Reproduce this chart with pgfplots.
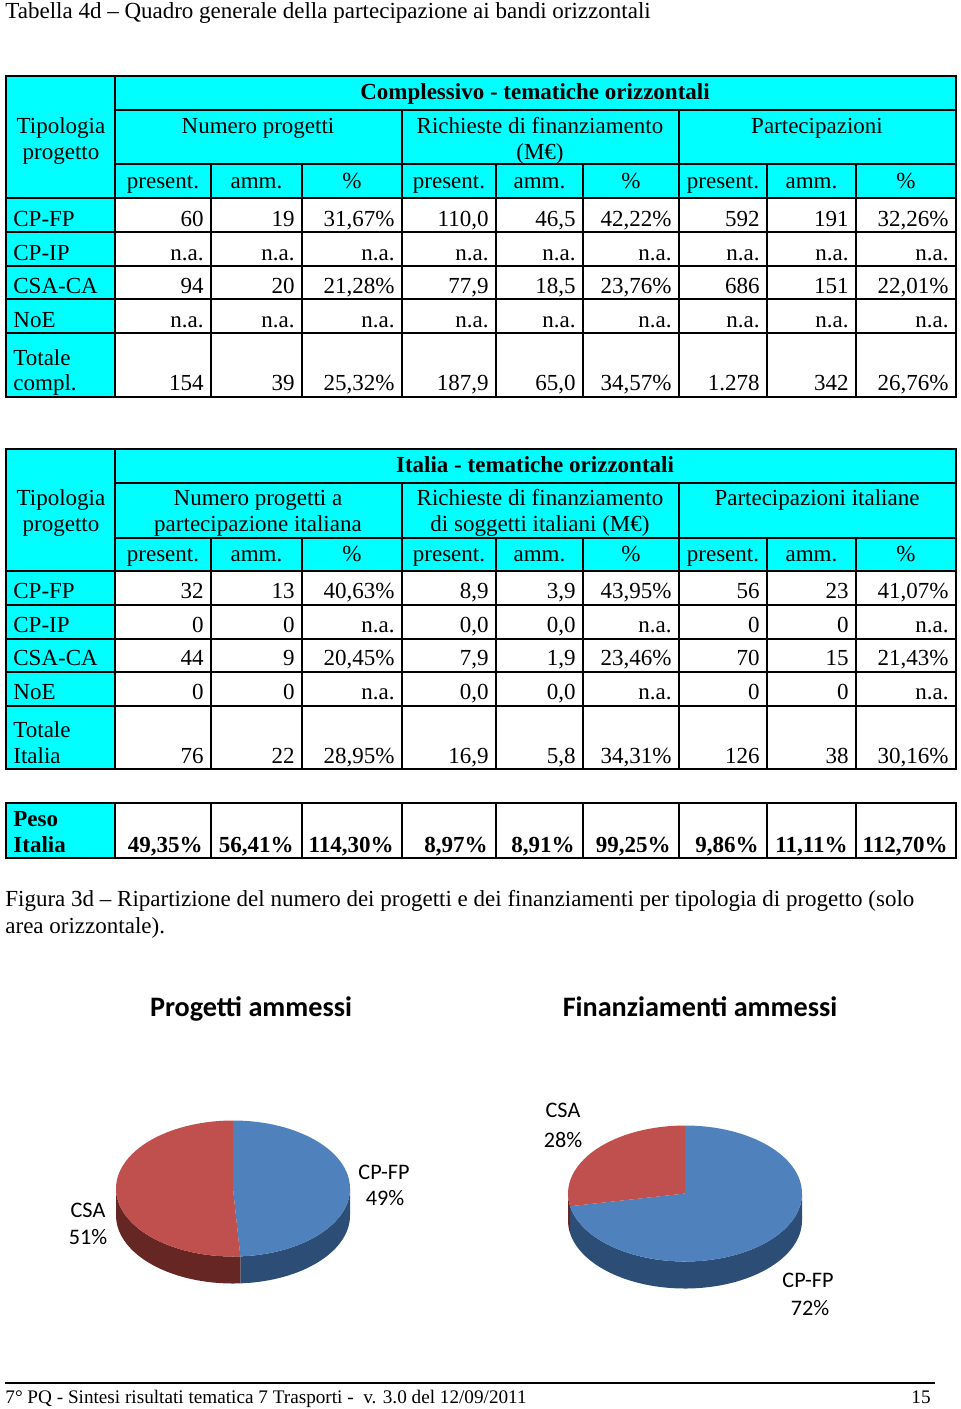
\documentclass[border=0pt]{standalone}
\usepackage{fontspec}
\setmainfont{Liberation Serif}
\newfontfamily\calibri{Carlito}
\usepackage{pgfplots}
\usepackage{pgfplotstable}
\pgfplotsset{compat=1.18}
\definecolor{cy}{RGB}{0,255,255}
\definecolor{pb}{RGB}{79,129,189}
\definecolor{pr}{RGB}{192,80,77}
\definecolor{pbd}{RGB}{44,77,117}
\definecolor{prd}{RGB}{102,38,36}

\pgfplotstableread{
tipo share
CP-FP 49
CSA 51
}\progetti
\pgfplotstableread{
tipo share
CP-FP 72
CSA 28
}\finanz

\newcommand\drawpie[2]{%
 \fill[pbd] (axis cs:{117*cos(#1)},{68*sin(#1)}) arc[start angle=#1,end angle=0,x radius=117,y radius=68] -- (axis cs:117,-27) arc[start angle=0,end angle=#1,x radius=117,y radius=68] -- cycle;
 \fill[prd] (axis cs:-117,0) arc[start angle=-180,end angle=#1,x radius=117,y radius=68] -- (axis cs:{117*cos(#1)},{68*sin(#1)-27}) arc[start angle=#1,end angle=-180,x radius=117,y radius=68] -- cycle;
 \fill[pb] (axis cs:0,0) -- (axis cs:0,68) arc[start angle=90,end angle=#1,x radius=117,y radius=68] -- cycle;
 \fill[pr] (axis cs:0,0) -- (axis cs:{117*cos(#1)},{68*sin(#1)}) arc[start angle=#1,end angle=#2,x radius=117,y radius=68] -- cycle;
}
\newcommand\datarow[2]{\foreach \x/\v in {#2} {\node[anchor=base east] at (\x-7,#1) {\v};}}
\newcommand\boldrow[2]{\foreach \x/\v in {#2} {\node[anchor=base east] at (\x-8,#1) {\bfseries\v};}}
\newcommand\subhead[1]{%
 \foreach \x/\t in {163/present.,256.5/amm.,352/\%,449/present.,539.5/amm.,631/\%,723/present.,811.5/amm.,906/\%} {\node[anchor=base] at (\x,#1) {\t};}}
\newcommand\grid[4]{%
 \draw[line width=1.2pt] (6,#1) rectangle (956,#4);
 \draw[line width=1.2pt] (115,#2) -- (956,#2);
 \draw[line width=1.2pt] (115,#3) -- (956,#3);
 \draw[line width=1.2pt] (115,#1) -- (115,#4);
 \foreach \x in {402,679} {\draw[line width=1.2pt] (\x,#2) -- (\x,#4);}
 \foreach \x in {211,302,496,583,767,856} {\draw[line width=1.2pt] (\x,#3) -- (\x,#4);}
}

\begin{document}
\begin{tikzpicture}
\pgfplotstablegetelem{0}{share}\of\progetti \pgfmathsetmacro\Aone{90-3.6*\pgfplotsretval}
\pgfplotstablegetelem{1}{share}\of\progetti \pgfmathsetmacro\Atwo{\Aone-3.6*\pgfplotsretval}
\pgfplotstablegetelem{0}{share}\of\finanz \pgfmathsetmacro\Bone{90-3.6*\pgfplotsretval}
\pgfplotstablegetelem{1}{share}\of\finanz \pgfmathsetmacro\Btwo{\Bone-3.6*\pgfplotsretval}
\begin{scope}[x=0.5pt,y=-0.5pt,every node/.style={inner sep=0pt,font=\fontsize{11.5}{13}\selectfont}]
\useasboundingbox (0,0) rectangle (960,1409);
\node[anchor=base west] at (5,18) {Tabella 4d -- Quadro generale della partecipazione ai bandi orizzontali};
% ---------- table 1
\fill[cy] (6,76) rectangle (956,198);
\fill[cy] (6,198) rectangle (115,397);
\grid{76}{110}{164}{397}
\foreach \y in {198,232,266,299,333} {\draw[line width=1.2pt] (6,\y) -- (956,\y);}
\node[anchor=base] at (535,99) {\bfseries Complessivo - tematiche orizzontali};
\node[anchor=base] at (61,133) {Tipologia};
\node[anchor=base] at (61,159) {progetto};
\node[anchor=base] at (258,133) {Numero progetti};
\node[anchor=base] at (540,133) {Richieste di finanziamento};
\node[anchor=base] at (540,159) {(M€)};
\node[anchor=base] at (817,133) {Partecipazioni};
\subhead{188}
\node[anchor=base west] at (13,226) {CP-FP};
\node[anchor=base west] at (13,260) {CP-IP};
\node[anchor=base west] at (13,293) {CSA-CA};
\node[anchor=base west] at (13,327) {NoE};
\node[anchor=base west] at (13,365) {Totale};
\node[anchor=base west] at (13,390) {compl.};
\datarow{226}{211/60,302/19,402/{31,67\%},496/{110,0},583/{46,5},679/{42,22\%},767/592,856/191,956/{32,26\%}}
\datarow{260}{211/n.a.,302/n.a.,402/n.a.,496/n.a.,583/n.a.,679/n.a.,767/n.a.,856/n.a.,956/n.a.}
\datarow{293}{211/94,302/20,402/{21,28\%},496/{77,9},583/{18,5},679/{23,76\%},767/686,856/151,956/{22,01\%}}
\datarow{327}{211/n.a.,302/n.a.,402/n.a.,496/n.a.,583/n.a.,679/n.a.,767/n.a.,856/n.a.,956/n.a.}
\datarow{390}{211/154,302/39,402/{25,32\%},496/{187,9},583/{65,0},679/{34,57\%},767/1.278,856/342,956/{26,76\%}}
% ---------- table 2
\fill[cy] (6,449) rectangle (956,571);
\fill[cy] (6,571) rectangle (115,769);
\grid{449}{483}{538}{769}
\foreach \y in {571,605,639,672,706} {\draw[line width=1.2pt] (6,\y) -- (956,\y);}
\node[anchor=base] at (535,472) {\bfseries Italia - tematiche orizzontali};
\node[anchor=base] at (61,505) {Tipologia};
\node[anchor=base] at (61,531) {progetto};
\node[anchor=base] at (258,505) {Numero progetti a};
\node[anchor=base] at (258,531) {partecipazione italiana};
\node[anchor=base] at (540,505) {Richieste di finanziamento};
\node[anchor=base] at (540,531) {di soggetti italiani (M€)};
\node[anchor=base] at (817,505) {Partecipazioni italiane};
\subhead{561}
\node[anchor=base west] at (13,598) {CP-FP};
\node[anchor=base west] at (13,632) {CP-IP};
\node[anchor=base west] at (13,665) {CSA-CA};
\node[anchor=base west] at (13,699) {NoE};
\node[anchor=base west] at (13,737) {Totale};
\node[anchor=base west] at (13,763) {Italia};
\datarow{598}{211/32,302/13,402/{40,63\%},496/{8,9},583/{3,9},679/{43,95\%},767/56,856/23,956/{41,07\%}}
\datarow{632}{211/0,302/0,402/n.a.,496/{0,0},583/{0,0},679/n.a.,767/0,856/0,956/n.a.}
\datarow{665}{211/44,302/9,402/{20,45\%},496/{7,9},583/{1,9},679/{23,46\%},767/70,856/15,956/{21,43\%}}
\datarow{699}{211/0,302/0,402/n.a.,496/{0,0},583/{0,0},679/n.a.,767/0,856/0,956/n.a.}
\datarow{763}{211/76,302/22,402/{28,95\%},496/{16,9},583/{5,8},679/{34,31\%},767/126,856/38,956/{30,16\%}}
% ---------- peso
\fill[cy] (6,803) rectangle (115,858);
\draw[line width=1.2pt] (6,803) rectangle (956,858);
\foreach \x in {115,211,302,402,496,583,679,767,856} {\draw[line width=1.2pt] (\x,803) -- (\x,858);}
\node[anchor=base west] at (13,826) {\bfseries Peso};
\node[anchor=base west] at (13,852) {\bfseries Italia};
\boldrow{852}{211/{49,35\%},302/{56,41\%},402/{114,30\%},496/{8,97\%},583/{8,91\%},679/{99,25\%},767/{9,86\%},856/{11,11\%},956/{112,70\%}}
% ---------- caption
\node[anchor=base west] at (5,906) {Figura 3d -- Ripartizione del numero dei progetti e dei finanziamenti per tipologia di progetto (solo};
\node[anchor=base west] at (5,933) {area orizzontale).};
\node[anchor=base,font=\calibri\bfseries\fontsize{14.1}{16}\selectfont] at (251,1016) {Progetti ammessi};
\node[anchor=base,font=\calibri\bfseries\fontsize{14.1}{16}\selectfont] at (700,1016) {Finanziamenti ammessi};
\begin{scope}[every node/.style={inner sep=0pt,anchor=base,font=\calibri\fontsize{11.1}{13}\selectfont}]
\node at (384,1179) {CP-FP}; \node at (385,1205) {49\%};
\node at (88,1217) {CSA}; \node at (88,1244) {51\%};
\node at (563,1117) {CSA}; \node at (563,1147) {28\%};
\node at (808,1287) {CP-FP}; \node at (810,1315) {72\%};
\end{scope}
% ---------- footer
\draw[line width=0.6pt] (5,1383) -- (935,1383);
\node[anchor=base west,font=\fontsize{9.6}{12}\selectfont] at (5,1403) {7° PQ - Sintesi risultati tematica 7 Trasporti -\ \ v. 3.0 del 12/09/2011};
\node[anchor=base east,font=\fontsize{9.6}{12}\selectfont] at (931,1403) {15};
\end{scope}
\begin{axis}[at={(116.5pt,-594.25pt)},anchor=origin,x=0.5pt,y=0.5pt,xmin=-120,xmax=120,ymin=-100,ymax=75,hide axis,clip=false,disabledatascaling]
\drawpie{\Aone}{\Atwo}
\end{axis}
\begin{axis}[at={(342.5pt,-596.75pt)},anchor=origin,x=0.5pt,y=0.5pt,xmin=-120,xmax=120,ymin=-100,ymax=75,hide axis,clip=false,disabledatascaling]
\drawpie{\Bone}{\Btwo}
\end{axis}
\end{tikzpicture}
\end{document}
